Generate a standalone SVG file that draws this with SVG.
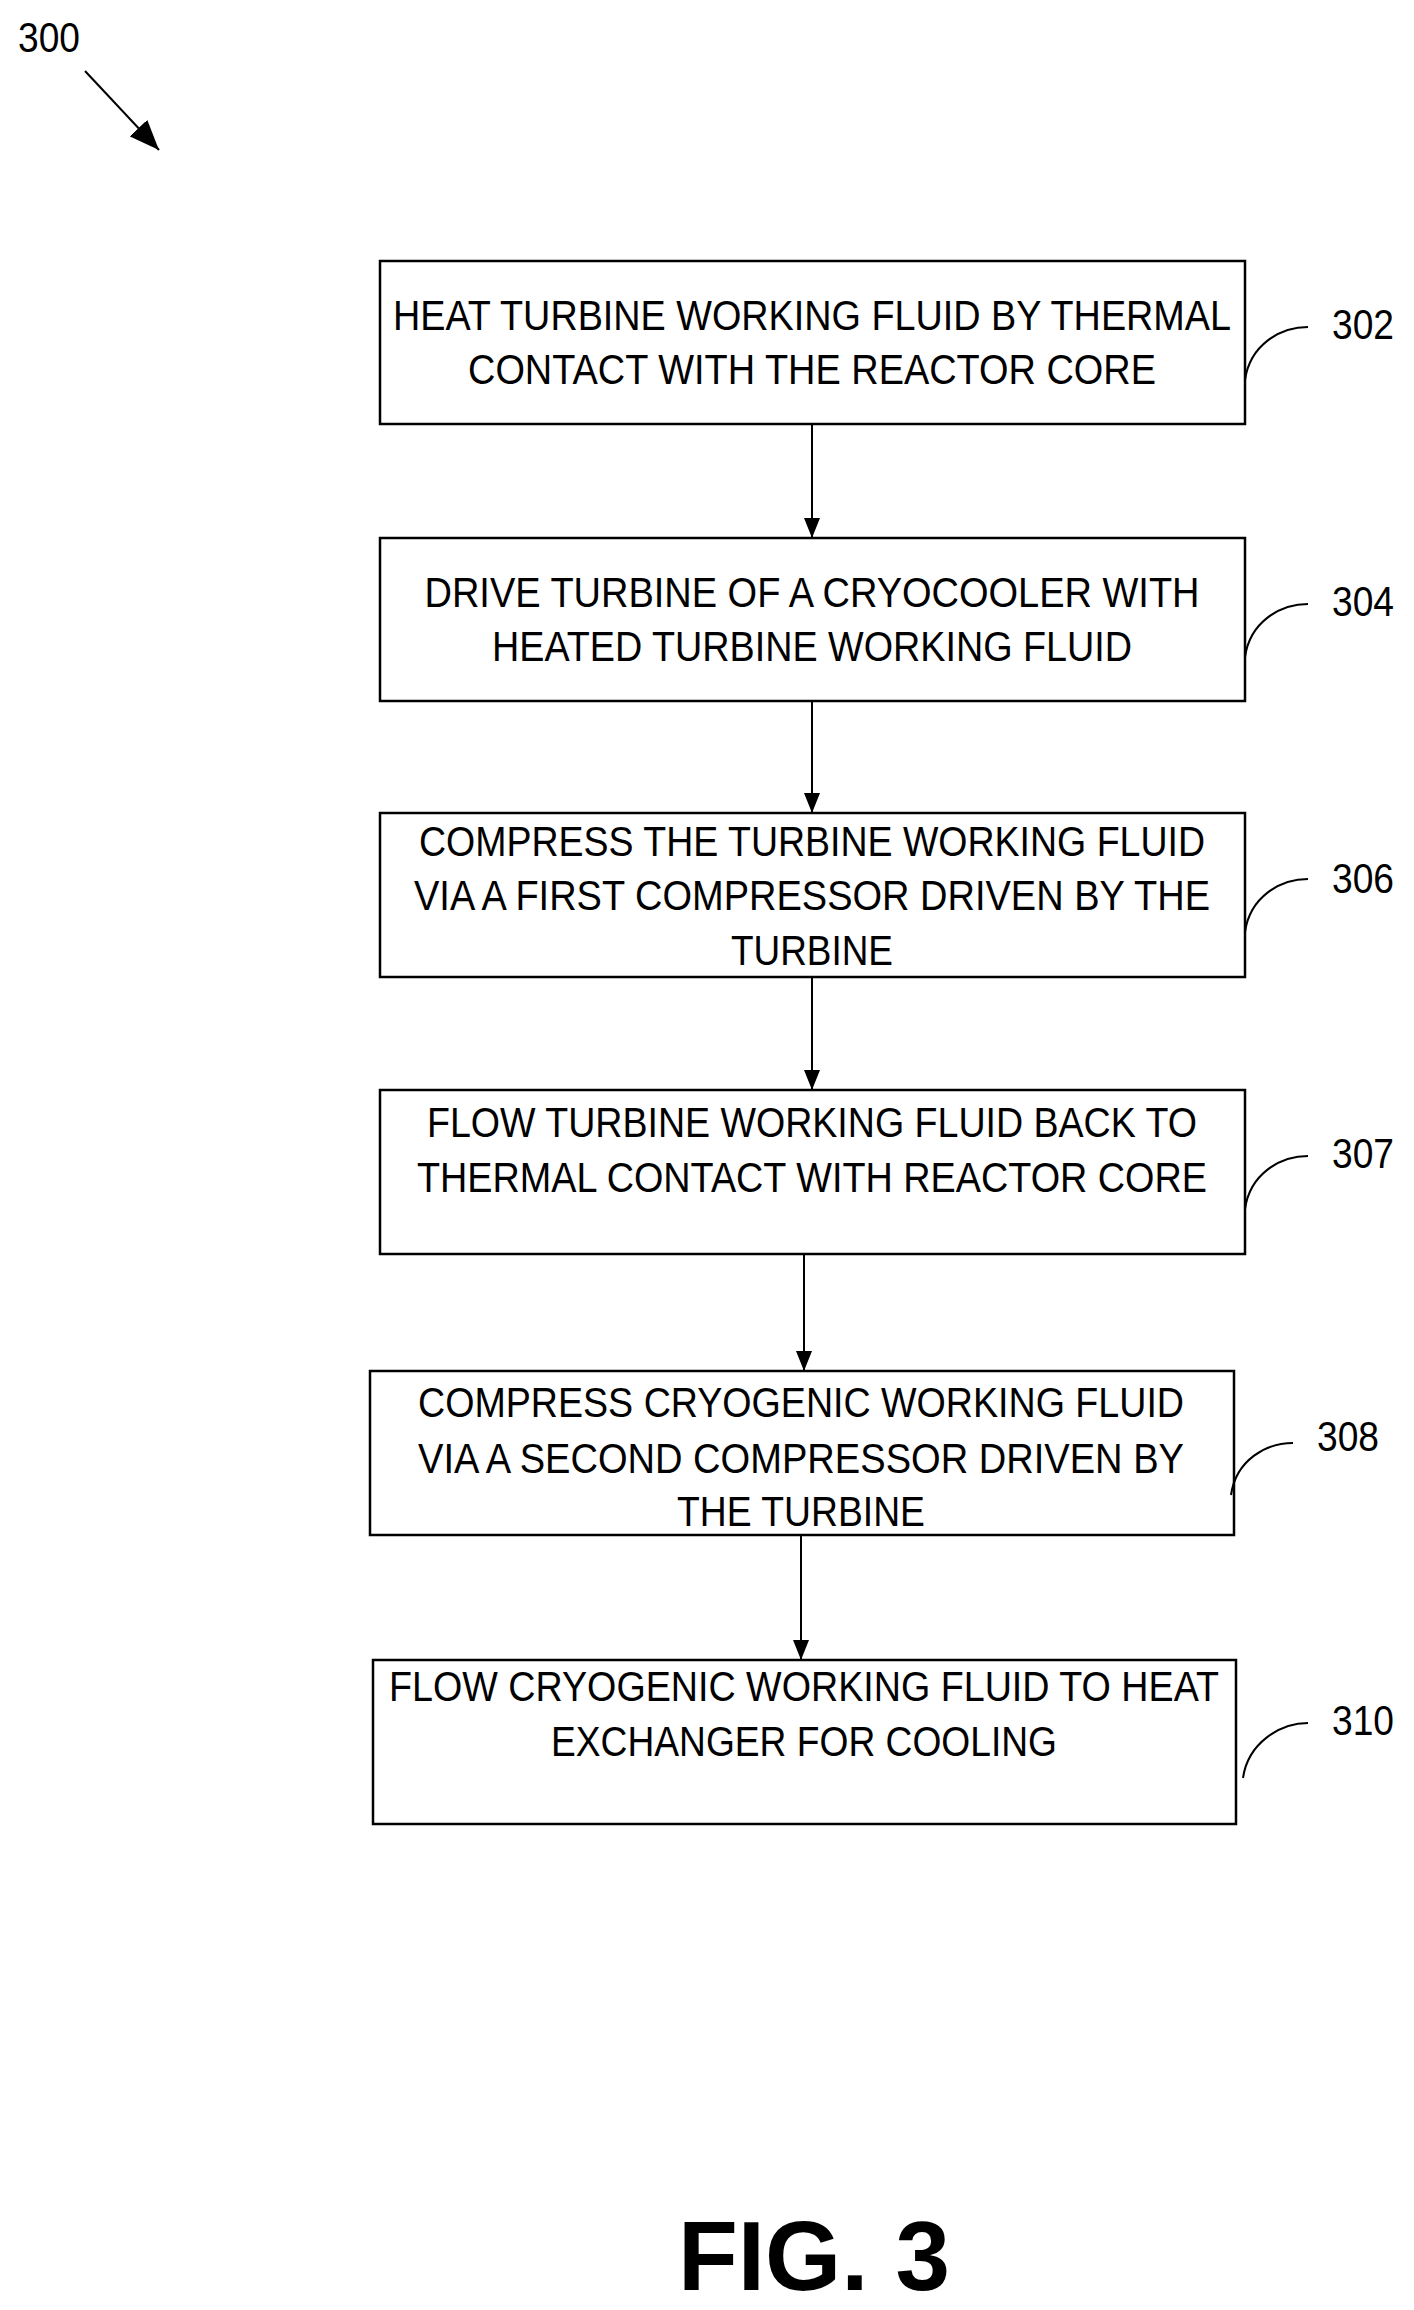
<svg xmlns="http://www.w3.org/2000/svg" width="1414" height="2310" viewBox="0 0 1414 2310">
<style>
.b{fill:#fff;stroke:#000;stroke-width:2.5}
.t{font-family:"Liberation Sans",Arial,sans-serif;font-size:42px;text-anchor:middle;fill:#000}
.l{font-family:"Liberation Sans",Arial,sans-serif;font-size:42px;fill:#000}
.c{fill:none;stroke:#000;stroke-width:2}
</style>
<defs><marker id="a" viewBox="0 0 20 20" refX="20" refY="10" markerWidth="20" markerHeight="20" markerUnits="userSpaceOnUse" orient="auto"><path d="M0,2 L20,10 L0,18 z" fill="#000"/></marker>
<marker id="a2" viewBox="0 0 30 24" refX="30" refY="12" markerWidth="30" markerHeight="24" markerUnits="userSpaceOnUse" orient="auto"><path d="M0,0 L30,12 L0,24 z" fill="#000"/></marker></defs>
<text class="l" x="18" y="52" textLength="62" lengthAdjust="spacingAndGlyphs">300</text>
<g id="connectors">
<line class="c" x1="85" y1="71" x2="159" y2="150" marker-end="url(#a2)"/>
<line class="c" x1="812" y1="424" x2="812" y2="538" marker-end="url(#a)"/>
<line class="c" x1="812" y1="701" x2="812" y2="813" marker-end="url(#a)"/>
<line class="c" x1="812" y1="977" x2="812" y2="1090" marker-end="url(#a)"/>
<line class="c" x1="804" y1="1254" x2="804" y2="1371" marker-end="url(#a)"/>
<line class="c" x1="801" y1="1535" x2="801" y2="1660" marker-end="url(#a)"/>
</g>
<g id="n302"><rect class="b" x="380" y="261" width="865" height="163"/>
<text class="t" x="812" y="330" textLength="838" lengthAdjust="spacingAndGlyphs">HEAT TURBINE WORKING FLUID BY THERMAL</text>
<text class="t" x="812" y="384" textLength="688" lengthAdjust="spacingAndGlyphs">CONTACT WITH THE REACTOR CORE</text>
<path class="c" d="M1245,380 C1250,345 1280,327 1308,327"/>
<text class="l" x="1332" y="339" textLength="62" lengthAdjust="spacingAndGlyphs">302</text></g>
<g id="n304"><rect class="b" x="380" y="538" width="865" height="163"/>
<text class="t" x="812" y="607" textLength="775" lengthAdjust="spacingAndGlyphs">DRIVE TURBINE OF A CRYOCOOLER WITH</text>
<text class="t" x="812" y="661" textLength="640" lengthAdjust="spacingAndGlyphs">HEATED TURBINE WORKING FLUID</text>
<path class="c" d="M1245,657 C1250,622 1280,604 1308,604"/>
<text class="l" x="1332" y="616" textLength="62" lengthAdjust="spacingAndGlyphs">304</text></g>
<g id="n306"><rect class="b" x="380" y="813" width="865" height="164"/>
<text class="t" x="812" y="856" textLength="786" lengthAdjust="spacingAndGlyphs">COMPRESS THE TURBINE WORKING FLUID</text>
<text class="t" x="812" y="910" textLength="796" lengthAdjust="spacingAndGlyphs">VIA A FIRST COMPRESSOR DRIVEN BY THE</text>
<text class="t" x="812" y="965" textLength="162" lengthAdjust="spacingAndGlyphs">TURBINE</text>
<path class="c" d="M1245,932 C1250,897 1280,879 1308,879"/>
<text class="l" x="1332" y="893" textLength="62" lengthAdjust="spacingAndGlyphs">306</text></g>
<g id="n307"><rect class="b" x="380" y="1090" width="865" height="164"/>
<text class="t" x="812" y="1137" textLength="770" lengthAdjust="spacingAndGlyphs">FLOW TURBINE WORKING FLUID BACK TO</text>
<text class="t" x="812" y="1192" textLength="790" lengthAdjust="spacingAndGlyphs">THERMAL CONTACT WITH REACTOR CORE</text>
<path class="c" d="M1245,1209 C1250,1174 1280,1156 1308,1156"/>
<text class="l" x="1332" y="1168" textLength="62" lengthAdjust="spacingAndGlyphs">307</text></g>
<g id="n308"><rect class="b" x="370" y="1371" width="864" height="164"/>
<text class="t" x="801" y="1417" textLength="766" lengthAdjust="spacingAndGlyphs">COMPRESS CRYOGENIC WORKING FLUID</text>
<text class="t" x="801" y="1473" textLength="766" lengthAdjust="spacingAndGlyphs">VIA A SECOND COMPRESSOR DRIVEN BY</text>
<text class="t" x="801" y="1526" textLength="248" lengthAdjust="spacingAndGlyphs">THE TURBINE</text>
<path class="c" d="M1231,1495 C1236,1460 1266,1443 1293,1443"/>
<text class="l" x="1317" y="1451" textLength="62" lengthAdjust="spacingAndGlyphs">308</text></g>
<g id="n310"><rect class="b" x="373" y="1660" width="863" height="164"/>
<text class="t" x="804" y="1701" textLength="830" lengthAdjust="spacingAndGlyphs">FLOW CRYOGENIC WORKING FLUID TO HEAT</text>
<text class="t" x="804" y="1756" textLength="506" lengthAdjust="spacingAndGlyphs">EXCHANGER FOR COOLING</text>
<path class="c" d="M1243,1778 C1248,1743 1280,1723 1308,1723"/>
<text class="l" x="1332" y="1735" textLength="62" lengthAdjust="spacingAndGlyphs">310</text></g>
<text x="678" y="2290" font-family="Liberation Sans,Arial,sans-serif" font-weight="bold" font-size="98" textLength="272" lengthAdjust="spacingAndGlyphs">FIG. 3</text>
</svg>
